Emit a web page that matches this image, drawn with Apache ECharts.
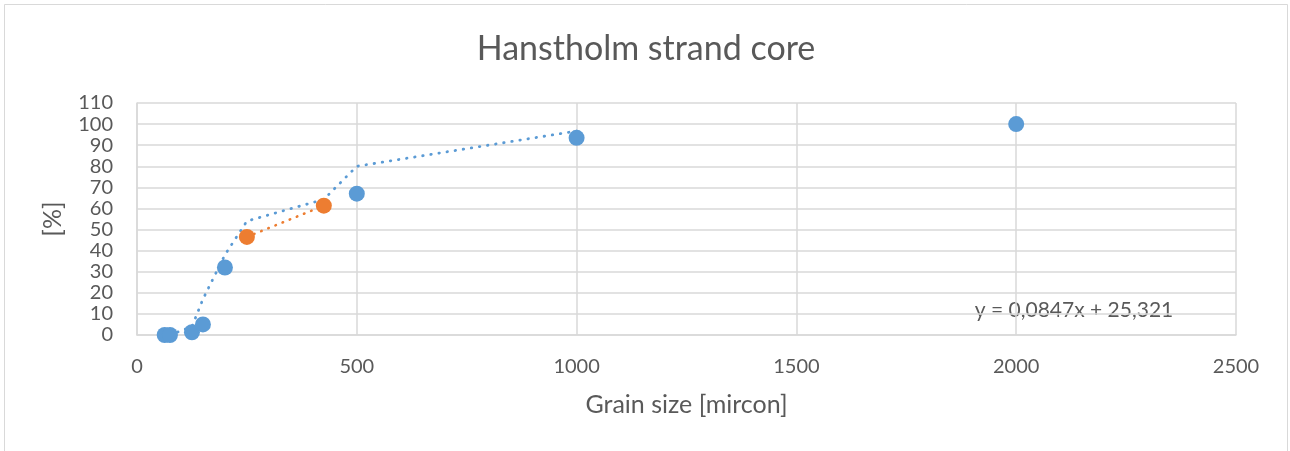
<!DOCTYPE html>
<html>
<head>
<meta charset="utf-8">
<script src="https://cdn.jsdelivr.net/npm/echarts@6/dist/echarts.min.js"></script>
<style>
  html, body { margin: 0; padding: 0; background: #fff; }
  #chart { width: 1290px; height: 451px; }
</style>
</head>
<body>
<div id="chart"></div>
<script>
// Sieve results: grain size (micron) vs cumulative percentage
const sizeBlue = [63, 75, 125, 150, 200, 500, 1000, 2000];
const pctBlue = [0, 0, 1.3, 5, 32, 67, 93.5, 100];

const sizeOrange = [250, 425];
const pctOrange = [46.5, 61.3];

// Dotted trend through the blue series
const trendBlueX = [75, 125, 150, 200, 250, 425, 500, 1000];
const trendBlueY = [0, 4, 17, 38, 54, 64.3, 80, 96.7];

// Linear fit of the orange points
const fitSlope = 0.0847;
const fitIntercept = 25.321;
const fitLabel = 'y = 0,0847x + 25,321';

const xTicks = [0, 500, 1000, 1500, 2000, 2500];
const yTicks = [0, 10, 20, 30, 40, 50, 60, 70, 80, 90, 100, 110];

const FONT = 'Lato, "Open Sans", sans-serif';
const TXT = '#595959';
const GRID = '#d9d9d9';
const BLUE = '#5b9bd5';
const ORANGE = '#ed7d31';

const zip = (xs, ys) => xs.map((x, i) => [x, ys[i]]);
const fitData = sizeOrange.map(x => [x, fitSlope * x + fitIntercept]);

const chart = echarts.init(document.getElementById('chart'), null, { renderer: 'canvas' });
chart.setOption({
  animation: false,
  backgroundColor: '#fff',
  graphic: [{
    type: 'rect',
    shape: { x: 4.5, y: 4.5, width: 1283, height: 470 },
    style: { fill: null, stroke: GRID, lineWidth: 1 },
    silent: true
  }, {
    type: 'text',
    x: 646, y: 49,
    style: {
      text: 'Hanstholm strand core', fontFamily: FONT, fontSize: 34, fill: TXT,
      align: 'center', verticalAlign: 'middle'
    }
  }, {
    type: 'text',
    x: 1074, y: 310,
    style: {
      text: fitLabel, fontFamily: FONT, fontSize: 21, fill: TXT,
      align: 'center', verticalAlign: 'middle'
    }
  }],
  grid: { left: 137, right: 54, top: 103, bottom: 116, containLabel: false },
  xAxis: {
    type: 'value', min: xTicks[0], max: xTicks[xTicks.length - 1], interval: 500,
    name: 'Grain size [mircon]', nameLocation: 'middle', nameGap: 57,
    nameTextStyle: { fontFamily: FONT, fontSize: 25, color: TXT },
    axisLine: { show: true, lineStyle: { color: GRID, width: 1.5 } },
    axisTick: { show: false },
    axisLabel: { fontFamily: FONT, fontSize: 20, color: TXT, margin: 22, formatter: v => String(v) },
    splitLine: { show: true, lineStyle: { color: GRID, width: 1.5 } }
  },
  yAxis: {
    type: 'value', min: yTicks[0], max: yTicks[yTicks.length - 1], interval: 10,
    name: '[%]', nameLocation: 'middle', nameGap: 72, nameRotate: 90,
    nameTextStyle: { fontFamily: FONT, fontSize: 25, color: TXT },
    axisLine: { show: true, lineStyle: { color: GRID, width: 1.5 } },
    axisTick: { show: false },
    axisLabel: { fontFamily: FONT, fontSize: 20, color: TXT, margin: 24 },
    splitLine: { show: true, lineStyle: { color: GRID, width: 1.5 } }
  },
  series: [{
    type: 'line',
    data: zip(trendBlueX, trendBlueY),
    showSymbol: false,
    lineStyle: { color: BLUE, width: 2.8, type: [0.5, 7.7], cap: 'round' },
    z: 2
  }, {
    type: 'line',
    data: fitData,
    showSymbol: false,
    lineStyle: { color: ORANGE, width: 2.6, type: [0.5, 7.2], cap: 'round' },
    z: 2
  }, {
    type: 'scatter',
    data: zip(sizeBlue, pctBlue),
    symbol: 'circle', symbolSize: 16,
    itemStyle: { color: BLUE, opacity: 1 },
    z: 3
  }, {
    type: 'scatter',
    data: zip(sizeOrange, pctOrange),
    symbol: 'circle', symbolSize: 16,
    itemStyle: { color: ORANGE, opacity: 1 },
    z: 3
  }]
});
</script>
</body>
</html>
